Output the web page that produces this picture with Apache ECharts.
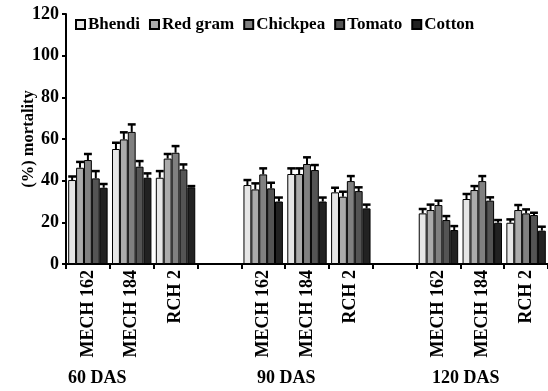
<!DOCTYPE html>
<html>
<head>
<meta charset="utf-8">
<script src="https://cdn.jsdelivr.net/npm/echarts@6/dist/echarts.min.js"></script>
<style>
  html, body { margin: 0; padding: 0; background: #fff; }
  #chart { width: 548px; height: 391px; }
</style>
</head>
<body>
<div id="chart"></div>
<script>
// categories, '' = empty slot between the DAS groups
const categories = ['MECH 162', 'MECH 184', 'RCH 2', '', 'MECH 162', 'MECH 184', 'RCH 2', '', 'MECH 162', 'MECH 184', 'RCH 2']
const groupLabels = ['60 DAS', '90 DAS', '120 DAS']
const seriesNames = ['Bhendi', 'Red gram', 'Chickpea', 'Tomato', 'Cotton']
const seriesColors = ['#e6e6e6', '#ababab', '#808080', '#545454', '#222222']

const bhendi = [40.3, 55.2, 41.4, null, 37.9, 43.2, 34.4, null, 24.3, 31.2, 19.8]
const redGram = [46.2, 59.8, 50.6, null, 35.8, 43.2, 32.3, null, 25.9, 35.5, 25.9]
const chickpea = [49.9, 63.4, 53.4, null, 43.0, 48.0, 39.8, null, 28.3, 39.8, 24.3]
const tomato = [41.1, 46.7, 45.4, null, 36.3, 45.1, 35.0, null, 21.1, 30.4, 23.5]
const cotton = [36.6, 41.4, 36.8, null, 30.0, 30.0, 26.7, null, 16.3, 19.8, 16.0]

// error bar (upper) sizes
const bhendiErr = [1.7, 3.0, 3.2, null, 2.4, 2.7, 2.2, null, 2.1, 2.4, 1.6]
const redGramErr = [2.8, 3.4, 2.2, null, 2.9, 2.7, 2.4, null, 2.6, 1.9, 2.4]
const chickpeaErr = [2.9, 3.6, 3.2, null, 2.9, 3.2, 2.4, null, 2.1, 2.4, 1.9]
const tomatoErr = [3.5, 2.7, 2.4, null, 2.7, 2.4, 1.8, null, 1.9, 1.6, 1.1]
const cottonErr = [1.8, 2.1, 0.6, null, 1.9, 1.9, 1.8, null, 1.9, 1.3, 1.9]

const yTicks = { min: 0, max: 120, interval: 20 }

const values = [bhendi, redGram, chickpea, tomato, cotton]
const errors = [bhendiErr, redGramErr, chickpeaErr, tomatoErr, cottonErr]

const FONT = 'Liberation Serif'
const CAT_GAP = 0.1

const chart = echarts.init(document.getElementById('chart'))

const barSeries = seriesNames.map((name, i) => ({
  name,
  type: 'bar',
  data: values[i].map(v => (v == null ? '-' : v)),
  barGap: '0%',
  barCategoryGap: CAT_GAP * 100 + '%',
  itemStyle: { color: seriesColors[i], borderColor: '#000', borderWidth: 1 },
  z: 2
}))

// upper error bars drawn over each bar
const errSeries = seriesNames.map((name, i) => ({
  type: 'custom',
  name: name + ' err',
  data: values[i].map((v, idx) => [idx, v, errors[i][idx]]).filter(d => d[1] != null),
  renderItem: (params, api) => {
    const idx = api.value(0)
    const v = api.value(1)
    const e = api.value(2)
    const band = api.size([1, 0])[0]
    const barW = band * (1 - CAT_GAP) / seriesNames.length
    const x = api.coord([idx, 0])[0] - band * (1 - CAT_GAP) / 2 + (i + 0.5) * barW
    const yTop = api.coord([idx, v])[1]
    const yErr = api.coord([idx, v + e])[1]
    const half = barW / 2
    return {
      type: 'group',
      children: [
        { type: 'line', shape: { x1: x, y1: yTop, x2: x, y2: yErr }, style: { stroke: '#000', lineWidth: 2 } },
        { type: 'line', shape: { x1: x - half, y1: yErr, x2: x + half, y2: yErr }, style: { stroke: '#000', lineWidth: 2.5 } }
      ]
    }
  },
  z: 3,
  silent: true
}))

const option = {
  animation: false,
  backgroundColor: '#fff',
  textStyle: { fontFamily: FONT },
  grid: { left: 66, right: 0, top: 14, bottom: 127 },
  legend: {
    data: seriesNames,
    left: 70,
    top: 11,
    itemWidth: 9,
    itemHeight: 9,
    itemGap: 9,
    icon: 'rect',
    textStyle: { fontFamily: FONT, fontWeight: 'bold', fontSize: 17, color: '#000', padding: [0, 0, 0, -2] }
  },
  xAxis: {
    type: 'category',
    data: categories,
    axisLine: { lineStyle: { color: '#000', width: 2 } },
    axisTick: { show: true, length: 5, lineStyle: { color: '#000', width: 2 }, interval: 0 },
    axisLabel: {
      interval: 0,
      rotate: 90,
      margin: 6,
      color: '#000',
      fontFamily: FONT,
      fontWeight: 'bold',
      fontSize: 18
    }
  },
  yAxis: {
    type: 'value',
    min: yTicks.min,
    max: yTicks.max,
    interval: yTicks.interval,
    name: '(%) mortality',
    nameLocation: 'middle',
    nameGap: 29,
    nameMoveOverlap: false,
    nameTextStyle: { color: '#000', fontFamily: FONT, fontWeight: 'bold', fontSize: 16.5 },
    axisLine: { show: true, lineStyle: { color: '#000', width: 2 } },
    axisTick: { show: true, length: 4, lineStyle: { color: '#000', width: 2 } },
    axisLabel: { color: '#000', fontFamily: FONT, fontWeight: 'bold', fontSize: 18, margin: 7 },
    splitLine: { show: false }
  },
  graphic: [
    { type: 'text', left: 68, top: 369, style: { text: groupLabels[0], font: 'bold 18px "Liberation Serif"', fill: '#000' } },
    { type: 'text', left: 257, top: 369, style: { text: groupLabels[1], font: 'bold 18px "Liberation Serif"', fill: '#000' } },
    { type: 'text', left: 432, top: 369, style: { text: groupLabels[2], font: 'bold 18px "Liberation Serif"', fill: '#000' } }
  ],
  series: [...barSeries, ...errSeries]
}

chart.setOption(option)
</script>
</body>
</html>
